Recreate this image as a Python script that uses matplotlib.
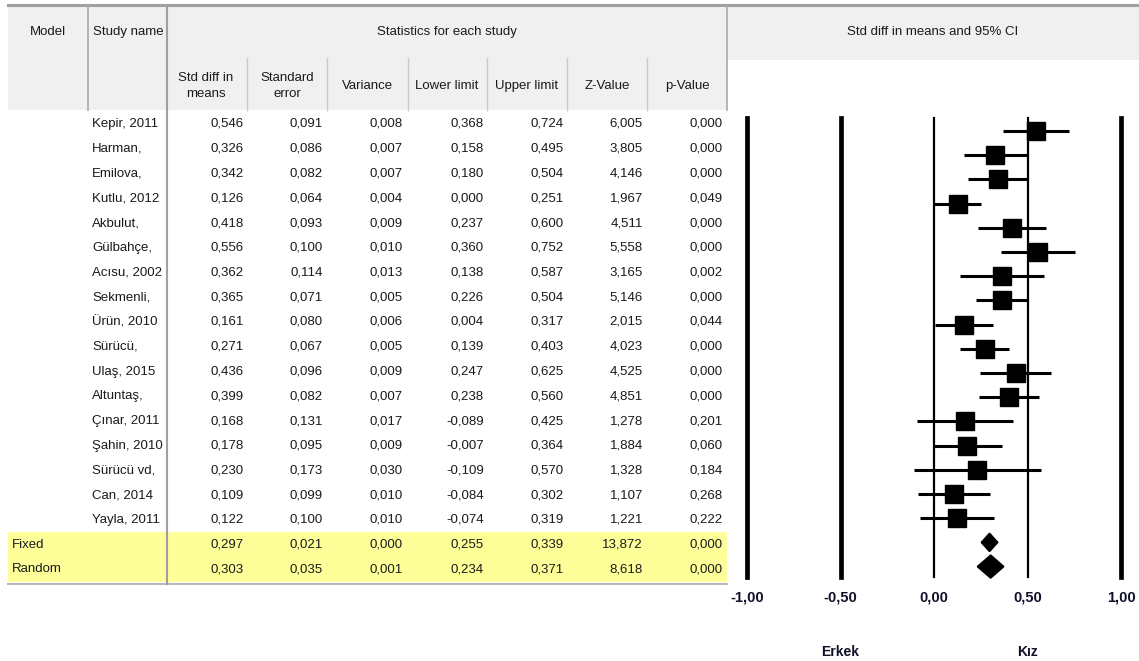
import matplotlib
matplotlib.use("Agg")
import matplotlib.pyplot as plt
from matplotlib.patches import Rectangle, Polygon

# ---------------- data ----------------
studies = ["Kepir, 2011", "Harman,", "Emilova,", "Kutlu, 2012", "Akbulut,", "Gülbahçe,",
           "Acısu, 2002", "Sekmenli,", "Ürün, 2010", "Sürücü,", "Ulaş, 2015", "Altuntaş,",
           "Çınar, 2011", "Şahin, 2010", "Sürücü vd,", "Can, 2014", "Yayla, 2011"]
smd = [0.546, 0.326, 0.342, 0.126, 0.418, 0.556, 0.362, 0.365, 0.161, 0.271, 0.436, 0.399,
       0.168, 0.178, 0.230, 0.109, 0.122]
se = [0.091, 0.086, 0.082, 0.064, 0.093, 0.100, 0.114, 0.071, 0.080, 0.067, 0.096, 0.082,
      0.131, 0.095, 0.173, 0.099, 0.100]
variance = [0.008, 0.007, 0.007, 0.004, 0.009, 0.010, 0.013, 0.005, 0.006, 0.005, 0.009, 0.007,
            0.017, 0.009, 0.030, 0.010, 0.010]
lower = [0.368, 0.158, 0.180, 0.000, 0.237, 0.360, 0.138, 0.226, 0.004, 0.139, 0.247, 0.238,
         -0.089, -0.007, -0.109, -0.084, -0.074]
upper = [0.724, 0.495, 0.504, 0.251, 0.600, 0.752, 0.587, 0.504, 0.317, 0.403, 0.625, 0.560,
         0.425, 0.364, 0.570, 0.302, 0.319]
zval = [6.005, 3.805, 4.146, 1.967, 4.511, 5.558, 3.165, 5.146, 2.015, 4.023, 4.525, 4.851,
        1.278, 1.884, 1.328, 1.107, 1.221]
pval = [0.000, 0.000, 0.000, 0.049, 0.000, 0.000, 0.002, 0.000, 0.044, 0.000, 0.000, 0.000,
        0.201, 0.060, 0.184, 0.268, 0.222]

models = ["Fixed", "Random"]
m_smd = [0.297, 0.303]
m_se = [0.021, 0.035]
m_var = [0.000, 0.001]
m_lower = [0.255, 0.234]
m_upper = [0.339, 0.371]
m_z = [13.872, 8.618]
m_p = [0.000, 0.000]

col_headers = ["Std diff in\nmeans", "Standard\nerror", "Variance", "Lower limit",
               "Upper limit", "Z-Value", "p-Value"]
tick_vals = [-1.0, -0.5, 0.0, 0.5, 1.0]
side_labels = ["Erkek", "Kız"]
side_pos = [-0.5, 0.5]

# ---------------- style ----------------
FONT = ["Liberation Sans Narrow", "Liberation Sans", "DejaVu Sans"]
plt.rcParams["font.family"] = FONT
TXT = "#1a1a1a"
FS = 9.5
W, H = 1139, 661

def fmt(v):
    return f"{v:.3f}".replace(".", ",")

fig = plt.figure(figsize=(W / 100, H / 100), dpi=100)
fig.patch.set_facecolor("white")

# table layer in pixel layout coordinates
tab = fig.add_axes([0, 0, 1, 1])
tab.set_xlim(0, W)
tab.set_ylim(H, 0)
tab.axis("off")

row_y0, row_dy = 124, 24.75
n = len(studies)

# header backgrounds
tab.add_patch(Rectangle((8, 5), 719, 105, facecolor="#f0f0f0", edgecolor="none"))
tab.add_patch(Rectangle((727, 5), W - 727, 55, facecolor="#f0f0f0", edgecolor="none"))
# yellow summary band
tab.add_patch(Rectangle((8, row_y0 + row_dy * (n - 0.5)), 719, row_dy * 2,
                        facecolor="#ffff99", edgecolor="none"))
# lines
tab.plot([8, W], [5, 5], color="#a0a0a0", lw=2.2)
tab.plot([8, 727], [584, 584], color="#b8b8b8", lw=1.5)
tab.plot([88, 88], [6, 110], color="#a8a8a8", lw=1.2)
tab.plot([167, 167], [6, 584], color="#a0a0a0", lw=1.5)
tab.plot([727, 727], [6, 110], color="#a8a8a8", lw=1.2)
for xs in [247, 327, 408, 487, 567, 647]:
    tab.plot([xs, xs], [58, 110], color="#c8c8c8", lw=1.0)

# header texts
tab.text(48, 32, "Model", ha="center", va="center", fontsize=FS, color=TXT)
tab.text(128, 32, "Study name", ha="center", va="center", fontsize=FS, color=TXT)
tab.text(447, 32, "Statistics for each study", ha="center", va="center", fontsize=FS, color=TXT)
tab.text(933, 32, "Std diff in means and 95% CI", ha="center", va="center", fontsize=FS, color=TXT)
col_centers = [206, 287, 368, 447, 527, 607, 687]
for cx, h in zip(col_centers, col_headers):
    tab.text(cx, 86, h, ha="center", va="center", fontsize=FS, color=TXT, linespacing=1.35)

col_right = [244, 323, 403, 484, 564, 643, 723]
for i in range(n):
    y = row_y0 + row_dy * i
    tab.text(92, y, studies[i], ha="left", va="center", fontsize=FS, color=TXT)
    vals = [smd[i], se[i], variance[i], lower[i], upper[i], zval[i], pval[i]]
    for xr, v in zip(col_right, vals):
        tab.text(xr, y, fmt(v), ha="right", va="center", fontsize=FS, color=TXT)
for k in range(2):
    y = row_y0 + row_dy * (n + k)
    tab.text(12, y, models[k], ha="left", va="center", fontsize=FS, color=TXT)
    vals = [m_smd[k], m_se[k], m_var[k], m_lower[k], m_upper[k], m_z[k], m_p[k]]
    for xr, v in zip(col_right, vals):
        tab.text(xr, y, fmt(v), ha="right", va="center", fontsize=FS, color=TXT)

# ---------------- forest plot ----------------
ax = fig.add_axes([747 / W, 1 - 577 / H, (1121 - 747) / W, (577 - 118) / H])
ax.set_xlim(-1, 1)
ax.set_ylim(18.43, -0.537)
for s in ax.spines.values():
    s.set_visible(False)
ax.patch.set_alpha(0)
ax.set_yticks([])

thick = {-1.0: 3.4, -0.5: 3.4, 0.0: 1.6, 0.5: 1.6, 1.0: 3.4}
for t in tick_vals:
    ax.axvline(t, color="black", lw=thick[t], clip_on=False, zorder=1)

for i in range(n):
    ax.plot([lower[i], upper[i]], [i, i], color="black", lw=2.2,
            solid_capstyle="butt", zorder=2, clip_on=False)
    ax.plot([smd[i]], [i], marker="s", ms=13.5, color="black", zorder=3,
            linestyle="none", clip_on=False)

dh = [0.36, 0.46]
for k in range(2):
    yy = n + k
    poly = Polygon([(m_lower[k], yy), (m_smd[k], yy - dh[k]), (m_upper[k], yy),
                    (m_smd[k], yy + dh[k])], closed=True, facecolor="black",
                   edgecolor="black", lw=1.5, joinstyle="round", zorder=3, clip_on=False)
    ax.add_patch(poly)

ax.set_xticks(tick_vals)
ax.set_xticklabels([f"{t:.2f}".replace(".", ",") for t in tick_vals],
                   fontsize=10.5, fontweight="bold", color="#10102a",
                   family=["Liberation Sans", "DejaVu Sans"])
ax.tick_params(axis="x", length=0, pad=10)

for lab, xp in zip(side_labels, side_pos):
    ax.text(xp, -0.163, lab, transform=ax.get_xaxis_transform(), ha="center",
            va="center", fontsize=10, fontweight="bold", color="#10102a",
            family=["Liberation Sans", "DejaVu Sans"])

fig.savefig("out.png", dpi=100)
